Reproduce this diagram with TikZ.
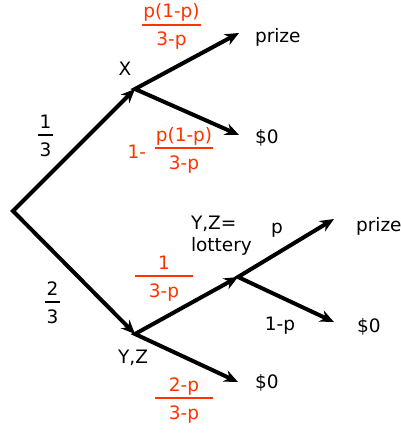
\documentclass[tikz,border=0pt]{standalone}
\usepackage{fontspec}
\setmainfont{DejaVu Sans}
\usepackage{tikz}
\usetikzlibrary{positioning, arrows.meta}
\definecolor{oddsred}{RGB}{255,51,0}
\newcommand{\oddsfrac}[6][black]{%
  \coordinate (#2) at (#3);
  \draw[-,line width=2.8pt,#1] ([xshift=-#4/2]#2) -- ([xshift=#4/2]#2);
  \node[lbl,#1] (#2n) at ([yshift=7pt]#2) {#5};
  \node[lbl,#1] (#2d) at ([yshift=-21pt]#2) {#6};}

\begin{document}
\begin{tikzpicture}[x=1pt,y=-1pt,>={Stealth[length=14pt,width=12pt]},line width=4pt,
    font=\fontsize{18.5}{22.5}\selectfont,
    lbl/.style={anchor=base,inner sep=0pt},
    leaf/.style={anchor=base west,inner sep=0pt}]
    \useasboundingbox (0,0) rectangle (401,436);
    \coordinate (root) at (13,211);
    \coordinate (X) at (135,89);
    \coordinate (YZ) at (135,334);
    \coordinate (L) at (238,277);
    \coordinate (Xprize) at (239,33);
    \coordinate (Xzero) at (239,135);
    \coordinate (Lprize) at (334,219);
    \coordinate (Lzero) at (334,322);
    \coordinate (YZzero) at (238,382);

    \draw[<->] (X) -- (root) -- (YZ);
    \draw[<->] (Xprize) -- (X) -- (Xzero);
    \draw[<->] (L) -- (YZ) -- (YZzero);
    \draw[<->] (Lprize) -- (L) -- (Lzero);

    \node[leaf] (prize1) at (253,42) {prize};
    \node[leaf] (zero1) at (253,143) {\$0};
    \node[leaf] (prize2) at (354,231) {prize};
    \node[leaf] (zero2) at (355,332) {\$0};
    \node[leaf] (zero3) at (253,388) {\$0};

    \node[lbl] (xlbl) at (125,75) {X};
    \node[lbl] (yzlbl) at (133,363) {Y,Z};
    \node[anchor=north west,inner sep=0pt,align=left] (lottery) at (189,214) {Y,Z=\\lottery};
    \node[lbl] (plbl) at (277,233) {p};
    \node[lbl] (qlbl) at (280,330) {1-p};

    \oddsfrac{third}{45.5,135}{15pt}{1}{3}
    \oddsfrac{twothirds}{52.5,302}{15pt}{2}{3}
    \oddsfrac[oddsred]{xp}{171.5,25}{59pt}{p(1-p)}{3-p}
    \node[anchor=base east,inner sep=0pt,oddsred] (one) at (148,158) {1-};
    \oddsfrac[oddsred]{xz}{184,148}{58pt}{p(1-p)}{3-p}
    \oddsfrac[oddsred]{yzl}{164,276}{58pt}{1}{3-p}
    \oddsfrac[oddsred]{yzz}{184,398}{58pt}{2-p}{3-p}
\end{tikzpicture}
\end{document}
